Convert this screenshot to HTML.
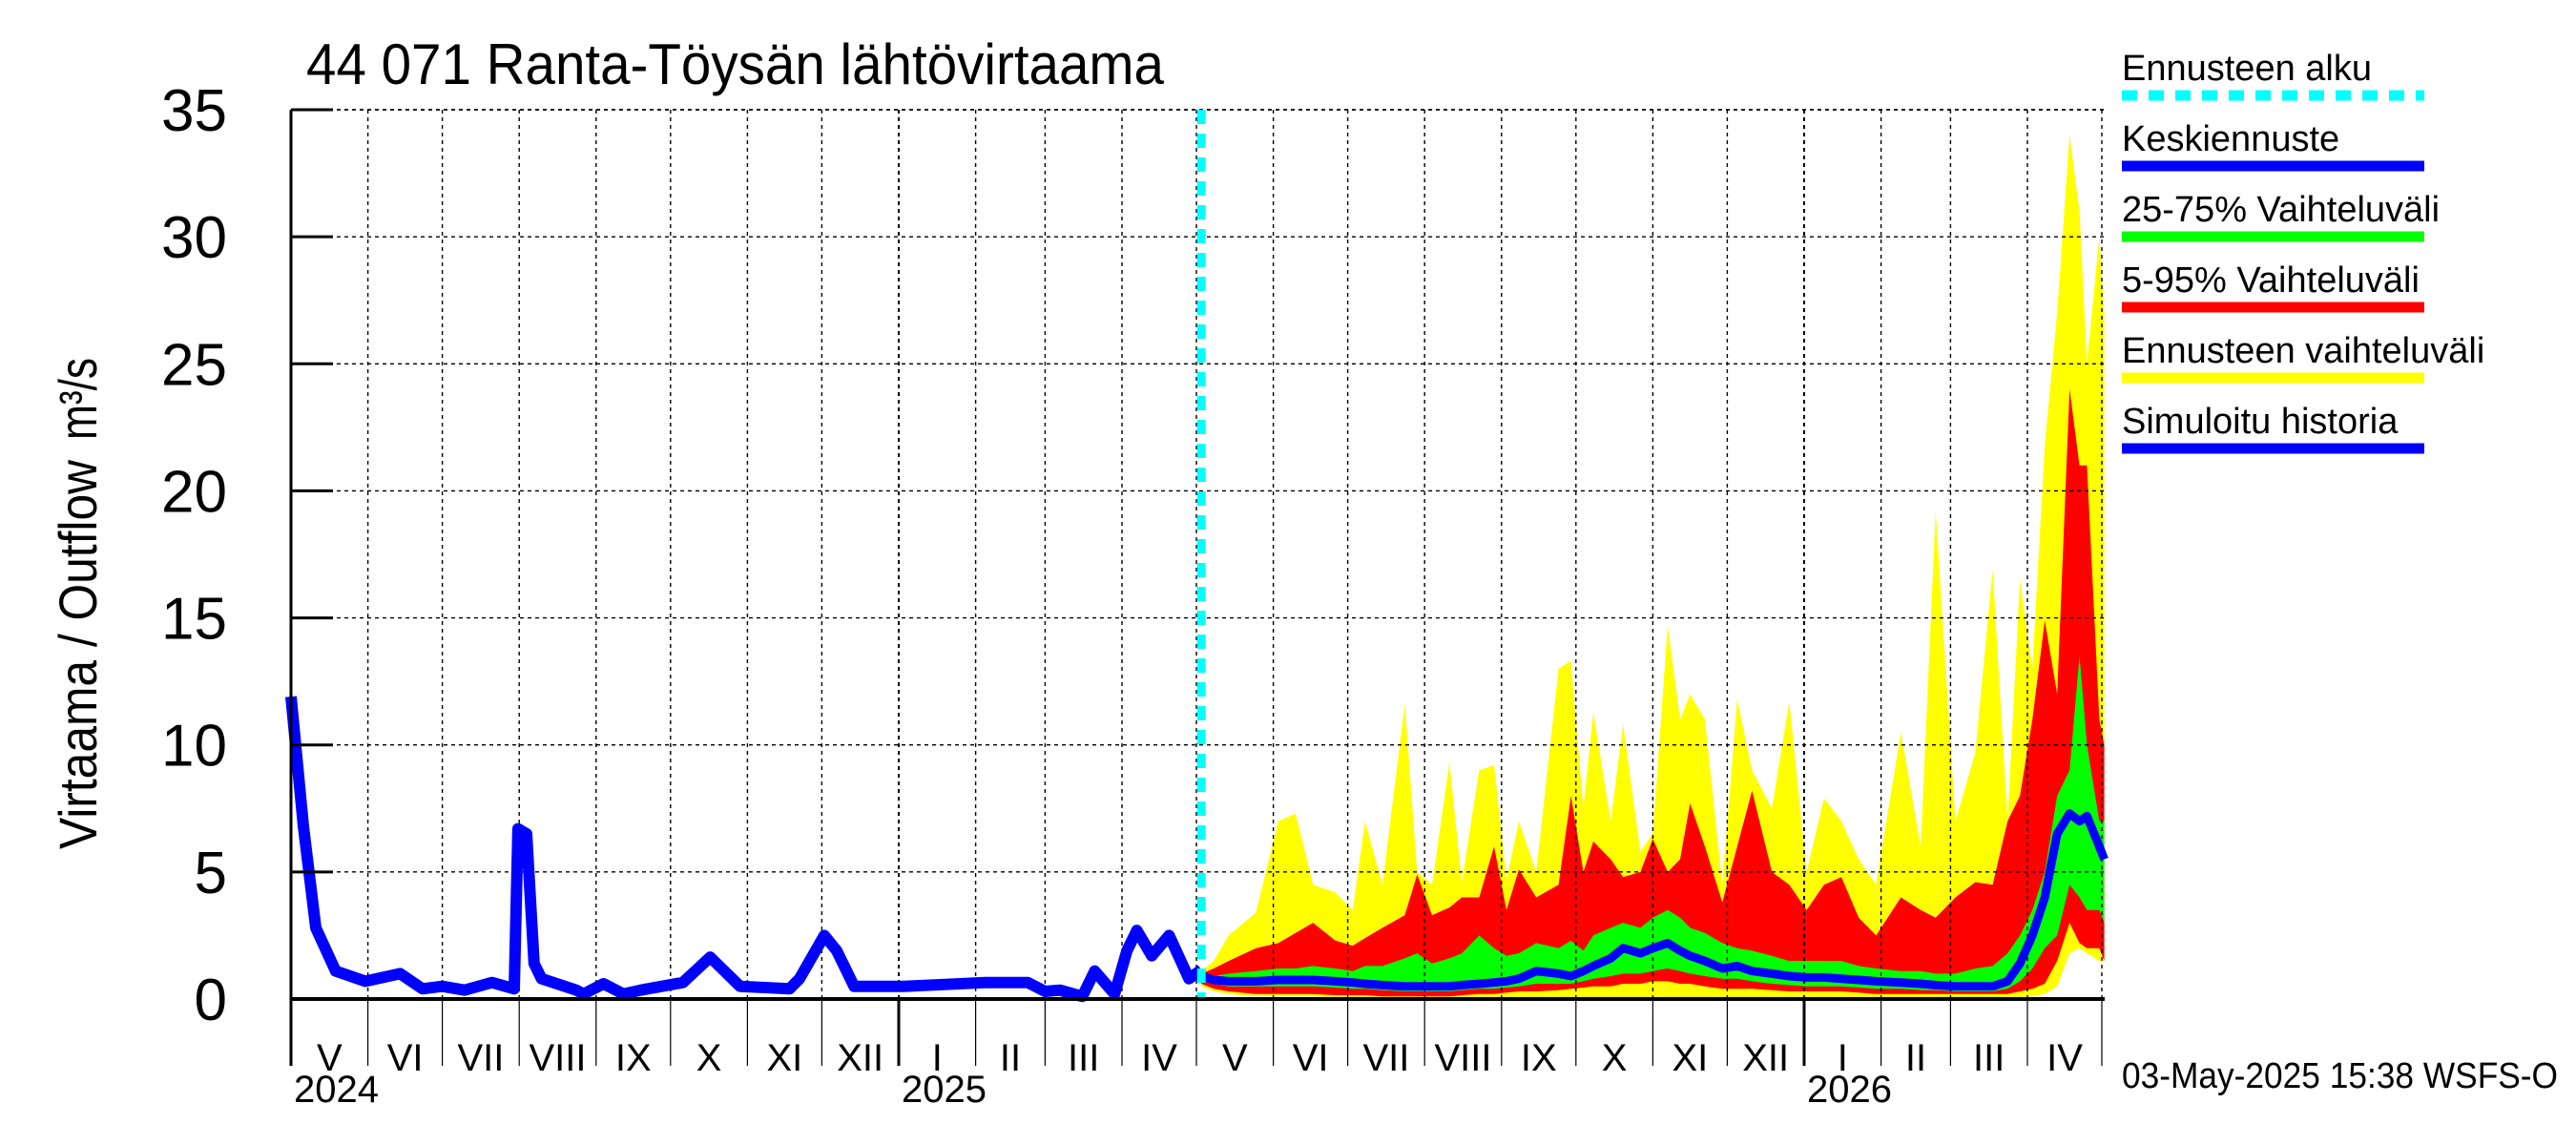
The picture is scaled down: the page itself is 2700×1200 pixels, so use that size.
<!DOCTYPE html>
<html><head><meta charset="utf-8"><style>
html,body{margin:0;padding:0;background:#fff;}
svg{display:block;font-family:"Liberation Sans",sans-serif;}
</style></head><body>
<svg id="chart" width="2700" height="1200" viewBox="0 0 2700 1200" xmlns="http://www.w3.org/2000/svg">
<rect x="0" y="0" width="2700" height="1200" fill="#fff"/>
<g id="bands"></g>
<g id="grid"></g>
<g id="lines"></g>
<g id="axes"></g>
<text x="321" y="88" font-size="60" textLength="899" lengthAdjust="spacingAndGlyphs">44 071 Ranta-Töysän lähtövirtaama</text>
<text transform="translate(101,686) rotate(-90)" text-anchor="middle" font-size="56" textLength="408" lengthAdjust="spacingAndGlyphs">Virtaama / Outflow</text>
<text transform="translate(101,418) rotate(-90)" text-anchor="middle" font-size="56" textLength="86" lengthAdjust="spacingAndGlyphs">m³/s</text>
<text x="2224" y="1140" font-size="38" textLength="457" lengthAdjust="spacingAndGlyphs">03-May-2025 15:38 WSFS-O</text>
<g id="legend"></g>
</svg>
<script>
const histDays = [0,5,10,18,30,44,53,61,70,81,90,91.5,95,98,101,115,118,126,134,141,158,169,181,201,205,215,220,227,247,280,297,304,310,319,324,332,337,341,347,354,362,367];
const histVals = [11.9,6.8,2.8,1.1,0.7,1.0,0.4,0.5,0.35,0.65,0.4,6.7,6.5,1.4,0.8,0.35,0.2,0.6,0.2,0.35,0.65,1.65,0.5,0.4,0.8,2.5,1.9,0.5,0.5,0.65,0.65,0.3,0.35,0.1,1.1,0.2,1.9,2.7,1.7,2.5,0.8,1.15];
const fDays = [367,372,378,389,398,405,412,421,428,433,440,449,454,460,467,472,479,485,490,495,502,511,516,521,525,532,537,544,549,555,560,564,570,577,583,589,597,604,611,618,625,632,639,649,657,663,671,679,686,692,697,702,707,712,717,721,724,729,731];
const fMax = [1.1,1.5,2.5,3.4,7.0,7.3,4.5,4.2,3.5,7.0,4.5,11.6,5.0,4.5,9.3,4.6,9.0,9.2,4.7,7.0,5.0,13.0,13.3,7.5,11.3,7.0,10.8,5.8,6.5,14.7,11.0,12.0,11.0,4.5,11.8,9.0,7.5,11.7,5.0,7.9,7.0,5.5,4.5,10.5,6.0,19.2,7.0,9.7,16.9,7.0,16.5,13.0,21.8,27,34,31,25,30,27];
const f95 = [1.0,1.2,1.5,2.0,2.2,2.6,3.0,2.3,2.1,2.4,2.8,3.3,4.9,3.3,3.6,4.0,4.0,6.0,3.5,5.1,4.0,4.5,8.0,5.0,6.2,5.5,4.8,5.0,6.3,5.0,5.5,7.7,6.0,3.8,6.0,8.2,5.0,4.5,3.5,4.5,4.8,3.2,2.5,4.0,3.5,3.2,4.0,4.6,4.5,7.0,8.0,11.0,14.9,12,24,21,21,11,10];
const f75 = [0.95,0.9,1.0,1.1,1.2,1.2,1.3,1.2,1.1,1.3,1.3,1.6,1.8,1.4,1.6,1.8,2.5,2.0,1.7,1.8,2.2,2.0,2.3,1.9,2.5,2.8,3.0,2.8,3.2,3.5,3.2,2.8,2.6,2.2,2.0,1.9,1.7,1.5,1.5,1.5,1.5,1.3,1.2,1.1,1.1,1.0,1.0,1.2,1.3,1.8,2.5,3.5,5.0,8,9,13.5,10,7,7];
const fMed = [0.9,0.75,0.7,0.7,0.75,0.75,0.75,0.7,0.65,0.6,0.55,0.5,0.5,0.5,0.5,0.55,0.6,0.65,0.7,0.8,1.1,1.0,0.9,1.1,1.3,1.6,2.0,1.8,2.0,2.2,1.9,1.7,1.5,1.2,1.3,1.1,1.0,0.9,0.85,0.85,0.8,0.75,0.7,0.65,0.6,0.55,0.5,0.5,0.5,0.7,1.4,2.5,4.0,6.5,7.3,7.0,7.2,6.0,5.5];
const f25 = [0.8,0.6,0.5,0.5,0.5,0.5,0.5,0.45,0.4,0.4,0.35,0.3,0.3,0.3,0.3,0.35,0.4,0.4,0.45,0.5,0.6,0.6,0.6,0.7,0.8,0.9,1.0,1.0,1.1,1.2,1.1,1.0,0.9,0.8,0.8,0.7,0.6,0.55,0.5,0.5,0.5,0.45,0.4,0.4,0.35,0.35,0.3,0.3,0.3,0.4,0.7,1.2,2.0,2.5,4.5,4.0,3.5,3.5,3.0];
const f5 = [0.6,0.4,0.3,0.2,0.2,0.2,0.2,0.15,0.15,0.15,0.1,0.1,0.1,0.1,0.1,0.15,0.2,0.2,0.25,0.3,0.3,0.35,0.4,0.45,0.5,0.5,0.6,0.6,0.7,0.7,0.6,0.6,0.5,0.4,0.4,0.4,0.35,0.3,0.3,0.3,0.3,0.25,0.2,0.2,0.2,0.2,0.2,0.2,0.2,0.2,0.3,0.4,0.6,1.5,3.0,2.2,2.0,2.0,1.5];
const fMin = [0.5,0.3,0.2,0.1,0.1,0.1,0.1,0.05,0.05,0.05,0.05,0.05,0.05,0.05,0.05,0.05,0.05,0.05,0.05,0.05,0.05,0.05,0.05,0.05,0.05,0.05,0.05,0.05,0.05,0.05,0.05,0.05,0.05,0.05,0.05,0.05,0.05,0.05,0.05,0.05,0.05,0.05,0.05,0.05,0.05,0.05,0.05,0.05,0.05,0.05,0.05,0.1,0.2,0.5,1.8,2.0,1.8,1.5,1.5];
const yTicks = [0,5,10,15,20,25,30,35];
const monthLabels = ["V","VI","VII","VIII","IX","X","XI","XII","I","II","III","IV","V","VI","VII","VIII","IX","X","XI","XII","I","II","III","IV"];
const yearLabels = ["2024","2025","2026"];
const forecastStartDay = 367;

const NS = "http://www.w3.org/2000/svg";
const X0 = 305, X1 = 2206, Y0 = 1047, YT = 115, YMAX = 35, PXD = 2.6;
const xs = d => X0 + d * PXD;
const ys = v => Y0 - (v / YMAX) * (Y0 - YT);
function mk(tag, attrs, parent) {
  const e = document.createElementNS(NS, tag);
  for (const k in attrs) e.setAttribute(k, attrs[k]);
  parent.appendChild(e);
  return e;
}
const bands = document.getElementById('bands');
const grid = document.getElementById('grid');
const lines = document.getElementById('lines');
const axes = document.getElementById('axes');
const legend = document.getElementById('legend');

function band(up, lo, color, name) {
  let pts = [];
  for (let i = 0; i < fDays.length; i++) pts.push(xs(fDays[i]).toFixed(1) + ',' + ys(up[i]).toFixed(1));
  for (let i = fDays.length - 1; i >= 0; i--) pts.push(xs(fDays[i]).toFixed(1) + ',' + ys(lo[i]).toFixed(1));
  const p = mk('polygon', {points: pts.join(' '), fill: color}, bands);
  
  
}
band(fMax, fMin, '#ffff00', 'forecast-range-band');
band(f95, f5, '#ff0000', 'band-5-95');
band(f75, f25, '#00ff00', 'band-25-75');

const base = new Date(Date.UTC(2024, 4, 1));
const bounds = [];
for (let m = 0; m <= 24; m++) {
  const d = new Date(Date.UTC(2024, 4 + m, 1));
  bounds.push({day: (d - base) / 86400000, month: d.getUTCMonth()});
}
for (const t of yTicks) {
  if (t === 0) continue;
  const g = mk('line', {x1: X0, x2: X1, y1: ys(t), y2: ys(t), stroke: '#000', 'stroke-width': 1.4, 'stroke-dasharray': '4,4'}, grid);
  
  
}
for (let i = 1; i < bounds.length; i++) {
  const x = xs(bounds[i].day);
  const yr = bounds[i].month === 0;
  const g = mk('line', {x1: x, x2: x, y1: YT, y2: Y0, stroke: '#000', 'stroke-width': yr ? 2 : 1.4, 'stroke-dasharray': '4,4'}, grid);
  
  
}
mk('line', {x1: X0, x2: X1, y1: YT, y2: YT, stroke: '#000', 'stroke-width': 1.4, 'stroke-dasharray': '4,4'}, grid);

let hp = histDays.map((d, i) => xs(d).toFixed(1) + ',' + ys(histVals[i]).toFixed(1)).join(' ');
const hl = mk('polyline', {points: hp, fill: 'none', stroke: '#0000ff', 'stroke-width': 12, 'stroke-linejoin': 'round'}, lines);


let mp = fDays.map((d, i) => xs(d).toFixed(1) + ',' + ys(fMed[i]).toFixed(1)).join(' ');
const ml = mk('polyline', {points: mp, fill: 'none', stroke: '#0000ff', 'stroke-width': 9, 'stroke-linejoin': 'round'}, lines);


const cx = xs(forecastStartDay);
const cl = mk('line', {x1: cx, x2: cx, y1: YT, y2: Y0, stroke: '#00ffff', 'stroke-width': 9, 'stroke-dasharray': '15,10'}, lines);



mk('line', {x1: X0, x2: X0, y1: YT, y2: 1117, stroke: '#000', 'stroke-width': 3}, axes);
mk('line', {x1: X0 - 1, x2: X1, y1: Y0, y2: Y0, stroke: '#000', 'stroke-width': 4}, axes);
for (const t of yTicks) {
  const tk = mk('line', {x1: X0, x2: X0 + 44, y1: ys(t), y2: ys(t), stroke: '#000', 'stroke-width': 3}, axes);
  
  
  const tl = mk('text', {x: 238, y: ys(t) + 22, 'text-anchor': 'end', 'font-size': 62}, axes);
  tl.textContent = t;
  
  
}
for (let i = 1; i < bounds.length; i++) {
  const x = xs(bounds[i].day);
  const yr = bounds[i].month === 0;
  mk('line', {x1: x, x2: x, y1: Y0, y2: 1117, stroke: '#000', 'stroke-width': yr ? 3 : 1.2}, axes);
}
for (let i = 0; i < monthLabels.length; i++) {
  const xm = (xs(bounds[i].day) + xs(bounds[i + 1].day)) / 2;
  const ml2 = mk('text', {x: xm, y: 1122, 'text-anchor': 'middle', 'font-size': 40}, axes);
  ml2.textContent = monthLabels[i];
  
  
}
const yearStarts = [0, bounds[8].day, bounds[20].day];
for (let i = 0; i < yearLabels.length; i++) {
  const yl = mk('text', {x: xs(yearStarts[i]) + 3, y: 1155, 'font-size': 40}, axes);
  yl.textContent = yearLabels[i];
  
  
}

const legNames = ["Ennusteen alku","Keskiennuste","25-75% Vaihteluväli","5-95% Vaihteluväli","Ennusteen vaihteluväli","Simuloitu historia"];
const legColors = ["#00ffff","#0000ff","#00ff00","#ff0000","#ffff00","#0000ff"];
for (let i = 0; i < legNames.length; i++) {
  const yb = 84 + i * 74;
  const t = mk('text', {x: 2224, y: yb, 'font-size': 38}, legend);
  t.textContent = legNames[i];
  
  
  const attrs = {x1: 2224, x2: 2541, y1: yb + 16, y2: yb + 16, stroke: legColors[i], 'stroke-width': 11};
  if (i === 0) attrs['stroke-dasharray'] = '16,12';
  const l = mk('line', attrs, legend);
  
  
}
</script>
</body></html>
